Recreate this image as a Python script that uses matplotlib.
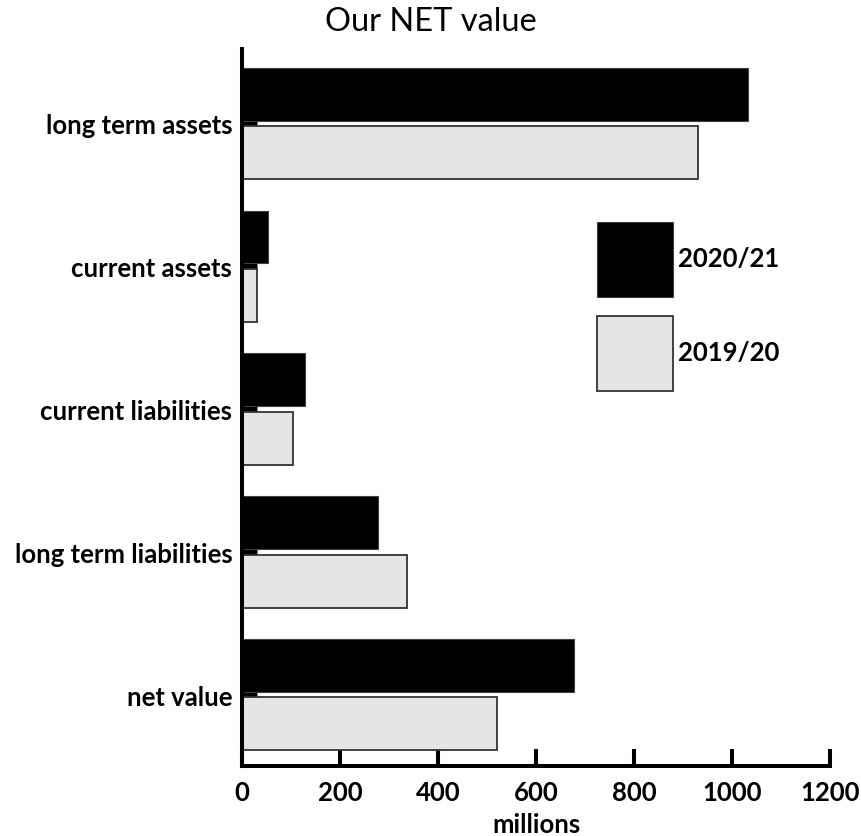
import matplotlib
matplotlib.use("Agg")
import matplotlib.pyplot as plt
import numpy as np

# ── data (millions) ───────────────────────────────────────────────────────────
categories = ["long term assets", "current assets", "current liabilities",
              "long term liabilities", "net value"]
values_2021 = [1033, 52, 129, 278, 678]
values_2020 = [931, 30, 105, 336, 520]
series_labels = ["2020/21", "2019/20"]
x_ticks = [0, 200, 400, 600, 800, 1000, 1200]

C_NEW = "#000000"
C_OLD = "#e5e5e5"
FONT = "Lato"
FS = 18.5

plt.rcParams["font.family"] = [FONT, "DejaVu Sans"]

fig = plt.figure(figsize=(8.61, 8.37), dpi=100)
ax = fig.add_axes([0.2811, 0.0836, 0.964 - 0.2811, 0.940 - 0.0836])

y = np.arange(len(categories))
off, h = 0.205, 0.37
ax.barh(y - off, values_2021, height=h, color=C_NEW, edgecolor="#404040",
        linewidth=0.8, label=series_labels[0], zorder=3)
ax.barh(y + off, values_2020, height=h, color=C_OLD, edgecolor="#333333",
        linewidth=1.3, label=series_labels[1], zorder=3)

ax.set_xlim(0, 1200)
ax.set_ylim(4.5, -0.52)
ax.set_xticks(x_ticks)
ax.set_yticks(y)
ax.set_yticklabels(categories)

for s in ["top", "right"]:
    ax.spines[s].set_visible(False)
for s in ["left", "bottom"]:
    ax.spines[s].set_linewidth(2.9)
    ax.spines[s].set_zorder(4)

ax.tick_params(axis="x", direction="in", length=12.2, width=2.9, pad=10,
               labelsize=FS)
ax.tick_params(axis="y", direction="in", length=11, width=3.6, pad=7,
               labelsize=FS)
for lbl in ax.get_xticklabels() + ax.get_yticklabels():
    lbl.set_fontweight("bold")

ax.set_xlabel("millions", fontsize=FS, fontweight="bold", labelpad=6)
fig.suptitle("Our NET value", x=0.5, y=0.992, fontsize=23.5, va="top")

leg = ax.legend(loc="upper left", bbox_to_anchor=(597 / 861, 1 - 223 / 837),
                bbox_transform=fig.transFigure, frameon=False,
                prop={"family": FONT, "weight": "bold", "size": FS},
                handlelength=2.95, handleheight=4.1, labelspacing=0.75,
                handletextpad=0.2, borderpad=0, borderaxespad=0)

plt.savefig("out.png", dpi=100, facecolor="white")
